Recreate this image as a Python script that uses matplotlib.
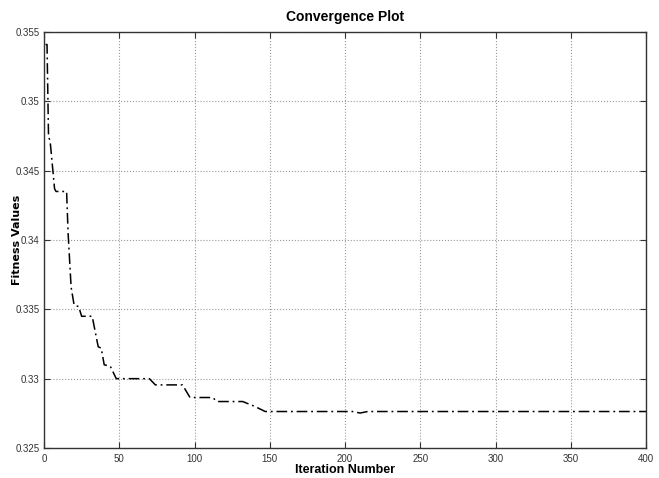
import matplotlib
matplotlib.use('Agg')
import matplotlib.pyplot as plt
from matplotlib import font_manager
from matplotlib.ticker import FuncFormatter

# best fitness per iteration (breakpoints)
iters = [1, 2, 3, 4, 7, 8, 15, 16, 18, 20, 23, 25, 32, 36, 38, 40, 44, 48, 70,
         74, 92, 97, 112, 115, 132, 140, 147, 205, 210, 215, 400]
fitness = [0.3541, 0.3541, 0.3474, 0.3472, 0.3437, 0.3435, 0.3435, 0.3405,
           0.3366, 0.3353, 0.3352, 0.3345, 0.3345, 0.3323, 0.3322, 0.3310,
           0.3309, 0.3300, 0.3300, 0.32955, 0.32955, 0.32864, 0.32864, 0.32835,
           0.32835, 0.3280, 0.32763, 0.32763, 0.32752, 0.32763, 0.32763]

x_ticks = [0, 50, 100, 150, 200, 250, 300, 350, 400]
y_ticks = [0.325, 0.33, 0.335, 0.34, 0.345, 0.35, 0.355]

names = {f.name for f in font_manager.fontManager.ttflist}
narrow = ['Liberation Sans Narrow'] if 'Liberation Sans Narrow' in names else ['Liberation Sans']
narrow = narrow + ['DejaVu Sans']

fig = plt.figure(figsize=(6.59, 4.78), dpi=100)
ax = fig.add_axes([0.0668, 0.0628, 0.9135, 0.8702])

ax.plot(iters, fitness, color='black', linewidth=1.1,
        linestyle=(0, (7, 2.5, 1.2, 2.5)))

ax.set_xlim(0, 400)
ax.set_ylim(0.325, 0.355)
ax.set_xticks(x_ticks)
ax.set_yticks(y_ticks)
ax.yaxis.set_major_formatter(FuncFormatter(lambda v, p: ('%.3f' % v).rstrip('0')))
ax.tick_params(direction='in', top=True, right=True, length=4, width=0.8,
               labelsize=7, colors='#333333', pad=3)
ax.tick_params(axis='x', pad=4)
for lbl in ax.get_xticklabels() + ax.get_yticklabels():
    lbl.set_family(narrow)

ax.grid(True, linestyle=':', color='#999999', linewidth=0.8)
for s in ax.spines.values():
    s.set_linewidth(1.0)
    s.set_color('#333333')

ax.set_title('Convergence Plot', fontsize=10, fontweight='bold', family=narrow, pad=8)
ax.set_xlabel('Iteration Number', fontsize=9, fontweight='bold', family=narrow, labelpad=0)
ax.set_ylabel('Fitness Values', fontsize=8, fontweight='bold')
ax.yaxis.set_label_coords(-0.036, 0.5)

fig.savefig('out.png', dpi=100)
